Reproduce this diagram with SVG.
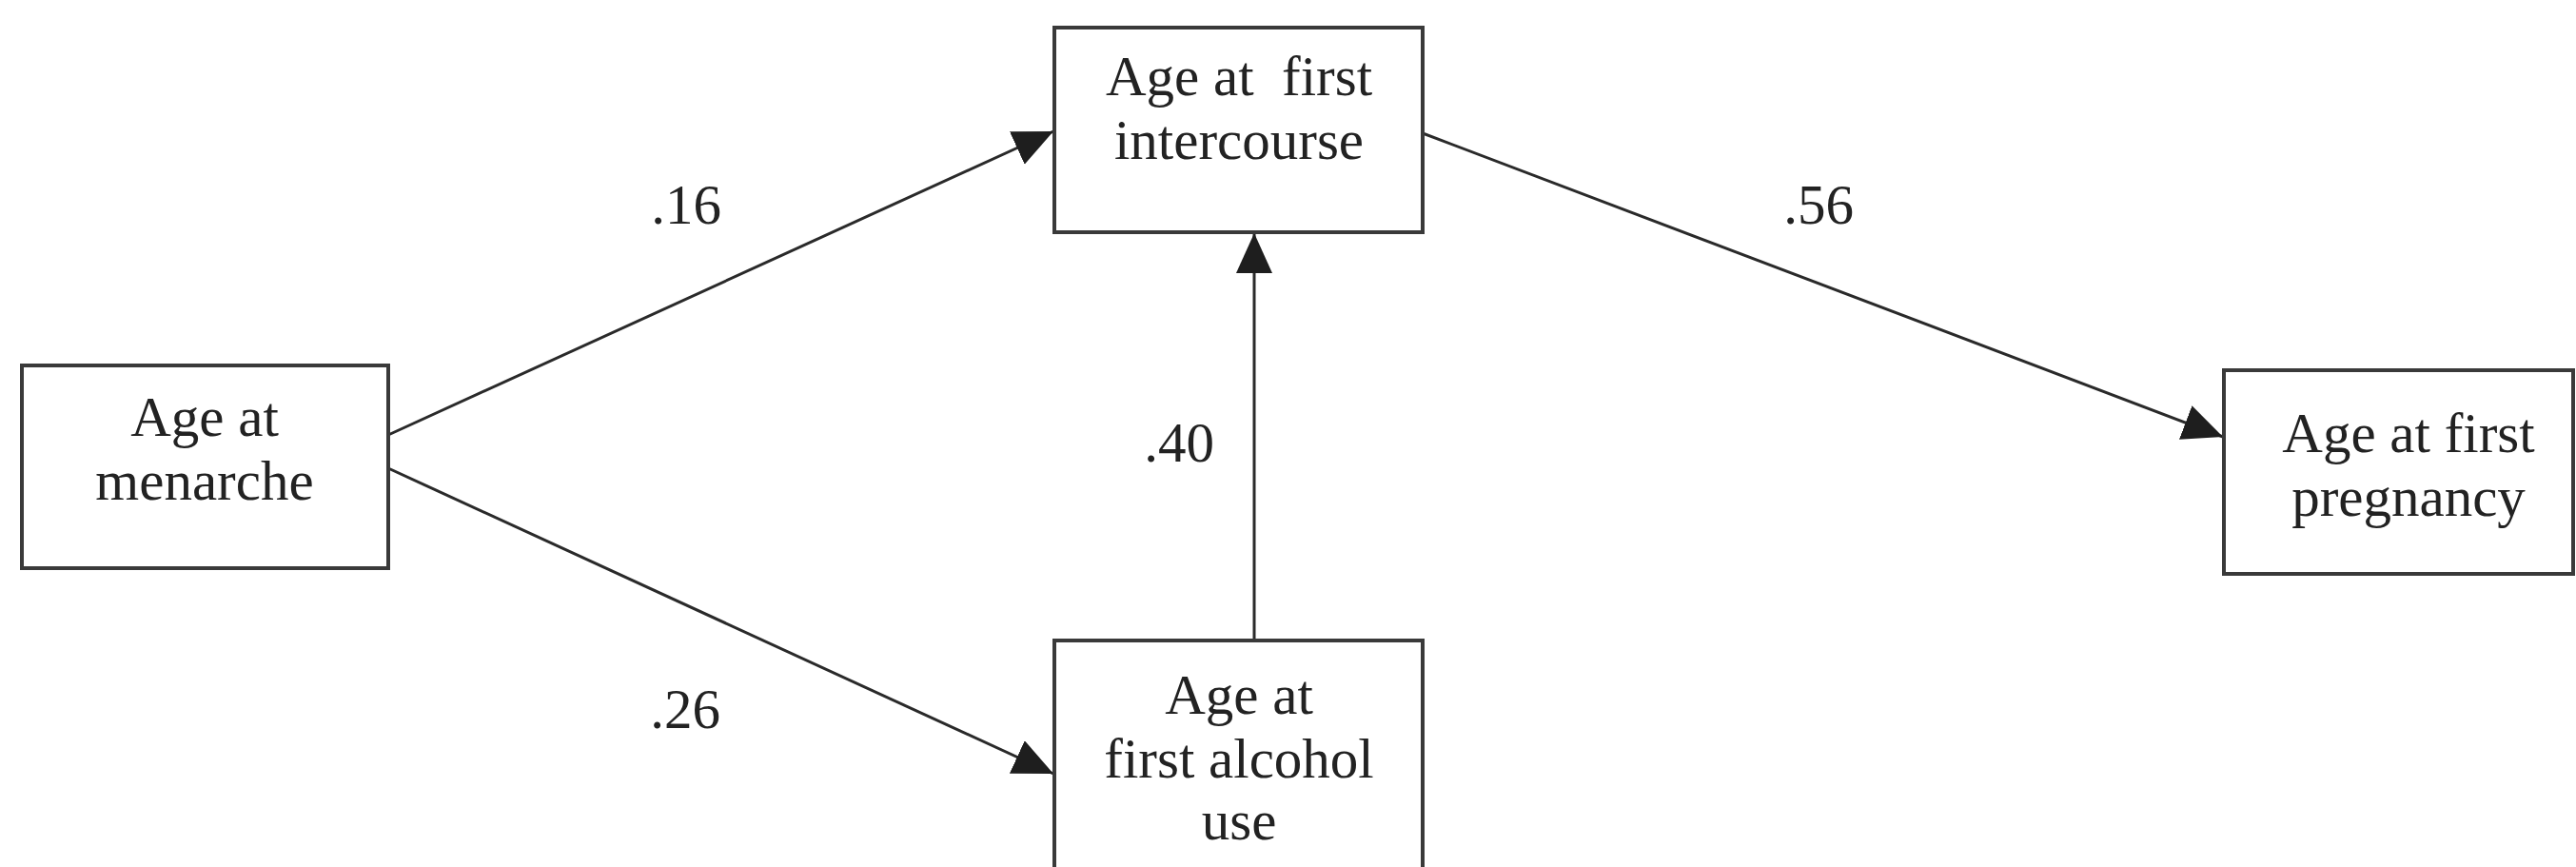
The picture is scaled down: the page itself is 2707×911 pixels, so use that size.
<svg xmlns="http://www.w3.org/2000/svg" width="2707" height="911" viewBox="0 0 2707 911">
<style>
.box{fill:#fff;stroke:#3a3a3a;stroke-width:4}
.t{font-family:"Liberation Serif","Times New Roman",serif;font-size:59px;fill:#222;text-anchor:middle}
.c{stroke:#2a2a2a;stroke-width:3;fill:none;marker-end:url(#ah)}
</style>
<defs>
<marker id="ah" markerUnits="userSpaceOnUse" markerWidth="44" markerHeight="40" refX="42" refY="19" orient="auto">
<path d="M0,0 L42,19 L0,38 z" fill="#1e1e1e"/>
</marker>
</defs>
<rect width="2707" height="911" fill="#fff"/>
<g id="connectors">
<line class="c" x1="408" y1="457" x2="1107" y2="138"/>
<line class="c" x1="408" y1="492" x2="1107" y2="813"/>
<line class="c" x1="1495" y1="140" x2="2336" y2="459"/>
<line class="c" x1="1318" y1="673" x2="1318" y2="245"/>
<text class="t" x="721" y="235">.16</text>
<text class="t" x="720" y="765">.26</text>
<text class="t" x="1239" y="485">.40</text>
<text class="t" x="1911" y="235">.56</text>
</g>
<g id="menarche">
<rect class="box" x="23" y="384" width="385" height="213"/>
<text class="t" x="215" y="458">Age at</text>
<text class="t" x="215" y="525">menarche</text>
</g>
<g id="intercourse">
<rect class="box" x="1108" y="29" width="387" height="215"/>
<text class="t" x="1302" y="100" xml:space="preserve">Age at  first</text>
<text class="t" x="1302" y="167">intercourse</text>
</g>
<g id="alcohol">
<rect class="box" x="1108" y="673" width="387" height="260"/>
<text class="t" x="1302" y="750">Age at</text>
<text class="t" x="1302" y="817">first alcohol</text>
<text class="t" x="1302" y="882">use</text>
</g>
<g id="pregnancy">
<rect class="box" x="2337" y="389" width="367" height="214"/>
<text class="t" x="2531" y="475">Age at first</text>
<text class="t" x="2531" y="542">pregnancy</text>
</g>
</svg>
